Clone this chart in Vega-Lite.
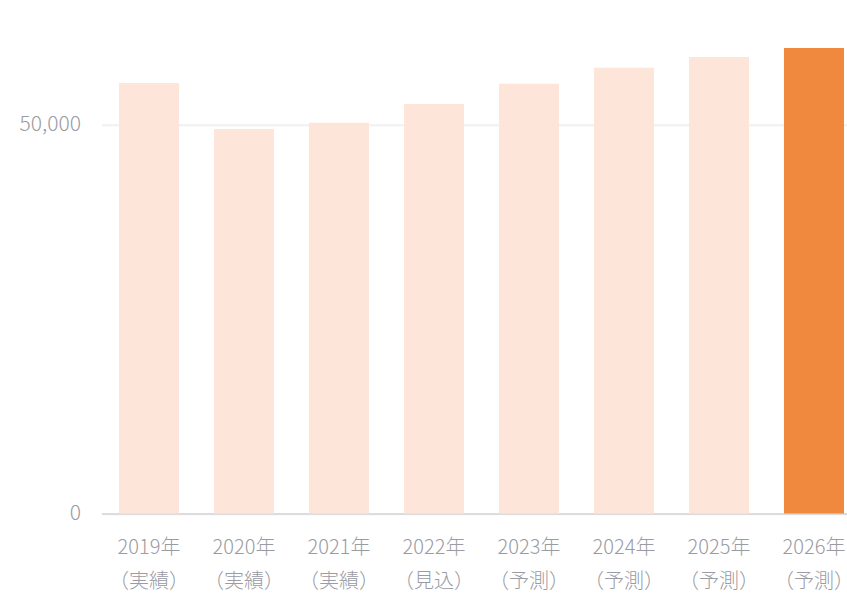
{
  "$schema": "https://vega.github.io/schema/vega-lite/v6.json",
  "width": 745.5,
  "height": 466.8,
  "autosize": {"type": "none"},
  "padding": {"left": 101.5, "top": 46.7, "right": 0, "bottom": 79.5},
  "background": "#ffffff",
  "data": {
    "values": [
      {"label": "2019年\n（実績）", "value": 55330, "highlight": "no"},
      {"label": "2020年\n（実績）", "value": 49420, "highlight": "no"},
      {"label": "2021年\n（実績）", "value": 50230, "highlight": "no"},
      {"label": "2022年\n（見込）", "value": 52630, "highlight": "no"},
      {"label": "2023年\n（予測）", "value": 55240, "highlight": "no"},
      {"label": "2024年\n（予測）", "value": 57300, "highlight": "no"},
      {"label": "2025年\n（予測）", "value": 58680, "highlight": "no"},
      {"label": "2026年\n（予測）", "value": 59830, "highlight": "yes"}
    ]
  },
  "config": {
    "view": {"stroke": null},
    "font": "Noto Sans CJK JP"
  },
  "mark": {"type": "bar"},
  "encoding": {
    "x": {
      "field": "label",
      "type": "nominal",
      "sort": null,
      "scale": {"paddingInner": 0.368, "paddingOuter": 0.1077, "align": 0.854},
      "axis": {
        "title": null,
        "labelAngle": 0,
        "labelExpr": "split(datum.value, '\\n')",
        "labelFont": "Noto Sans CJK JP",
        "labelFontSize": 20,
        "labelFontWeight": 300,
        "labelColor": "#9a9ba3",
        "labelLineHeight": 34,
        "labelBaseline": "top",
        "labelPadding": 24,
        "labelOverlap": false,
        "labelBound": false,
        "ticks": false,
        "domain": true,
        "domainColor": "#dcdcdc",
        "domainWidth": 2,
        "grid": false
      }
    },
    "y": {
      "field": "value",
      "type": "quantitative",
      "scale": {"domain": [0, 60000], "nice": false},
      "axis": {
        "title": null,
        "values": [0, 50000],
        "format": ",d",
        "labelFont": "Noto Sans CJK JP",
        "labelFontSize": 21,
        "labelFontWeight": 300,
        "labelColor": "#9a9ba3",
        "labelPadding": 21,
        "ticks": false,
        "domain": false,
        "grid": true,
        "gridColor": "#f0f0f0",
        "gridWidth": 2
      }
    },
    "color": {
      "field": "highlight",
      "type": "nominal",
      "scale": {"domain": ["no", "yes"], "range": ["#fde6d9", "#f0883e"]},
      "legend": null
    }
  }
}
